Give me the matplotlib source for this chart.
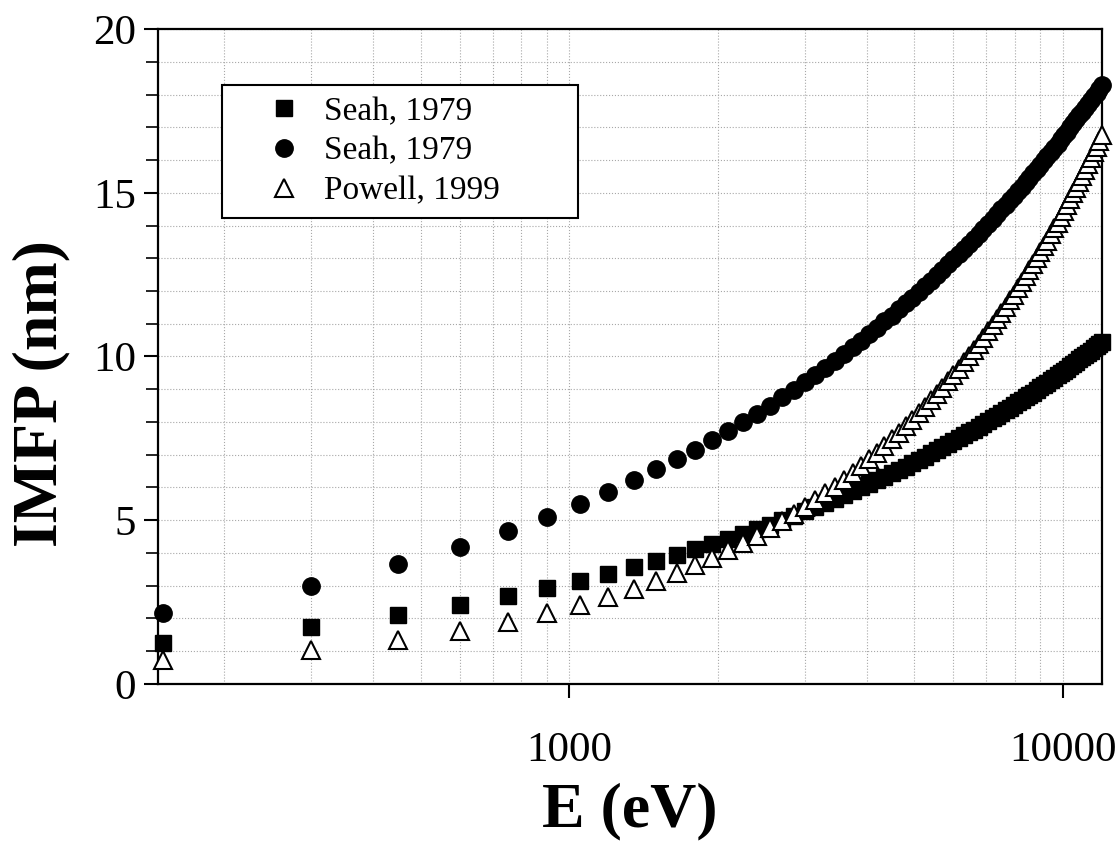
import matplotlib
matplotlib.use('Agg')
import matplotlib.pyplot as plt
from matplotlib.ticker import MultipleLocator, LogLocator, NullFormatter

plt.rcParams['font.family'] = ['Liberation Serif', 'DejaVu Serif']

# энергия электронов, эВ
energy = [150, 300, 450, 600, 750, 900, 1050, 1200, 1350, 1500,
          1650, 1800, 1950, 2100, 2250, 2400, 2550, 2700, 2850, 3000,
          3150, 3300, 3450, 3600, 3750, 3900, 4050, 4200, 4350, 4500,
          4650, 4800, 4950, 5100, 5250, 5400, 5550, 5700, 5850, 6000,
          6150, 6300, 6450, 6600, 6750, 6900, 7050, 7200, 7350, 7500,
          7650, 7800, 7950, 8100, 8250, 8400, 8550, 8700, 8850, 9000,
          9150, 9300, 9450, 9600, 9750, 9900, 10050, 10200, 10350, 10500,
          10650, 10800, 10950, 11100, 11250, 11400, 11550, 11700, 11850, 12000]

# IMFP, нм (квадраты)
seah_sq = [1.26, 1.74, 2.10, 2.41, 2.69, 2.93, 3.16, 3.37, 3.57, 3.76,
           3.93, 4.11, 4.27, 4.43, 4.58, 4.72, 4.87, 5.01, 5.14, 5.27,
           5.40, 5.52, 5.64, 5.76, 5.88, 6.00, 6.11, 6.22, 6.33, 6.43,
           6.54, 6.64, 6.74, 6.84, 6.94, 7.04, 7.13, 7.23, 7.32, 7.41,
           7.50, 7.59, 7.68, 7.77, 7.86, 7.94, 8.03, 8.11, 8.19, 8.28,
           8.36, 8.44, 8.52, 8.60, 8.67, 8.75, 8.83, 8.90, 8.98, 9.06,
           9.13, 9.20, 9.28, 9.35, 9.42, 9.49, 9.56, 9.63, 9.70, 9.77,
           9.84, 9.91, 9.98, 10.05, 10.11, 10.18, 10.25, 10.31, 10.38, 10.44]

# IMFP, нм (круги)
seah_ci = [2.16, 3.00, 3.65, 4.19, 4.67, 5.10, 5.50, 5.87, 6.22, 6.55,
           6.86, 7.16, 7.45, 7.73, 7.99, 8.25, 8.50, 8.75, 8.98, 9.21,
           9.44, 9.65, 9.87, 10.08, 10.28, 10.48, 10.68, 10.88, 11.07, 11.25,
           11.44, 11.62, 11.79, 11.97, 12.14, 12.31, 12.48, 12.65, 12.81, 12.97,
           13.13, 13.29, 13.45, 13.60, 13.75, 13.90, 14.05, 14.20, 14.34, 14.49,
           14.63, 14.77, 14.91, 15.05, 15.19, 15.33, 15.46, 15.60, 15.73, 15.86,
           15.99, 16.12, 16.25, 16.38, 16.50, 16.63, 16.75, 16.87, 17.00, 17.12,
           17.24, 17.36, 17.48, 17.60, 17.72, 17.83, 17.95, 18.06, 18.18, 18.29]

# IMFP, нм (треугольники)
powell = [0.72, 1.04, 1.34, 1.62, 1.90, 2.16, 2.42, 2.67, 2.91, 3.15,
          3.39, 3.62, 3.85, 4.08, 4.31, 4.53, 4.75, 4.97, 5.18, 5.40,
          5.61, 5.82, 6.03, 6.24, 6.45, 6.65, 6.86, 7.06, 7.27, 7.47,
          7.67, 7.87, 8.07, 8.26, 8.46, 8.66, 8.85, 9.05, 9.24, 9.43,
          9.63, 9.82, 10.01, 10.20, 10.39, 10.58, 10.77, 10.96, 11.15, 11.33,
          11.52, 11.71, 11.89, 12.08, 12.26, 12.45, 12.63, 12.81, 13.00, 13.18,
          13.36, 13.54, 13.73, 13.91, 14.09, 14.27, 14.45, 14.63, 14.81, 14.98,
          15.16, 15.34, 15.52, 15.70, 15.87, 16.05, 16.23, 16.40, 16.58, 16.76]

labels = ['Seah, 1979', 'Seah, 1979', 'Powell, 1999']
x_ticks = [1000, 10000]
x_tick_labels = ['1000', '10000']

fig = plt.figure(figsize=(11.17, 8.48), dpi=100)
ax = fig.add_axes([0.1417, 0.1934, 0.8449, 0.7724])

ax.plot(energy, seah_sq, 's', color='black', ms=11, label=labels[0],
        zorder=3, clip_on=False)
ax.plot(energy, seah_ci, 'o', color='black', ms=12.5, label=labels[1],
        zorder=3, clip_on=False)
ax.plot(energy, powell, '^', mfc='white', mec='black', mew=1.5, ms=12.5,
        label=labels[2], zorder=4, clip_on=False)

ax.set_xscale('log')
ax.set_xlim(147, 12000)
ax.set_ylim(0, 20)

ax.set_xticks(x_ticks, x_tick_labels)
ax.xaxis.set_minor_locator(LogLocator(base=10, subs=range(2, 10)))
ax.xaxis.set_minor_formatter(NullFormatter())
ax.yaxis.set_major_locator(MultipleLocator(5))
ax.yaxis.set_minor_locator(MultipleLocator(1))

ax.tick_params(axis='both', which='major', direction='out', length=10,
               width=1.5, labelsize=31)
ax.tick_params(axis='x', which='major', pad=24)
ax.tick_params(axis='y', which='major', pad=6)
ax.tick_params(axis='y', which='minor', direction='out', length=9, width=1.2)
ax.tick_params(axis='x', which='minor', length=0)

for s in ax.spines.values():
    s.set_linewidth(1.6)

ax.grid(True, which='both', linestyle=':', color='#a8a8a8', linewidth=0.8)
ax.set_axisbelow(True)

ax.set_xlabel('E (eV)', fontsize=46, fontweight='bold')
ax.xaxis.set_label_coords(0.5, -0.15)
ax.set_ylabel('IMFP (nm)', fontsize=46, fontweight='bold')
ax.yaxis.set_label_coords(-0.093, 0.444)

leg = ax.legend(loc='upper left', bbox_to_anchor=(0.068, 0.711, 0.377, 0.2035),
                mode='expand', fontsize=24, frameon=True, fancybox=False,
                framealpha=1, edgecolor='black', borderpad=0.34,
                labelspacing=0.28, handlelength=3.03, handletextpad=-0.33,
                borderaxespad=0)
leg.get_frame().set_linewidth(1.5)

fig.savefig('out.png', dpi=100)
